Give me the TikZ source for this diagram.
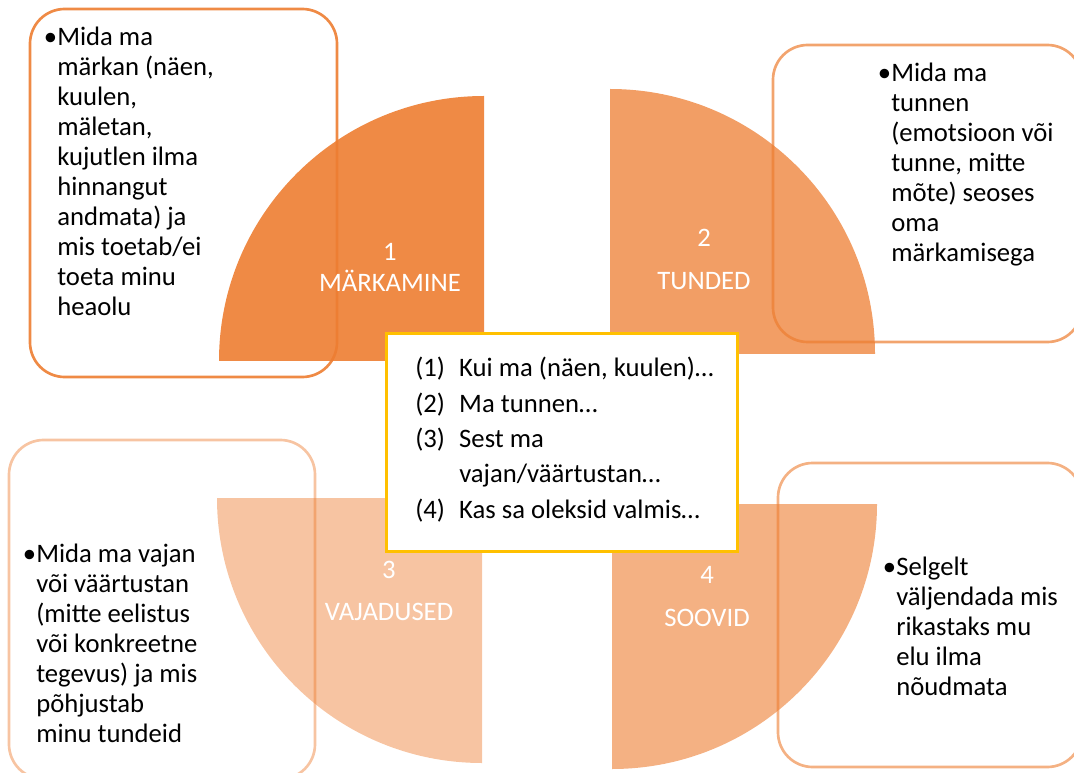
\documentclass[tikz,border=0pt]{standalone}
\usepackage{fontspec}
\setmainfont{Carlito}
\usepackage{tikz}
\definecolor{accent}{HTML}{ED7D31}
\definecolor{gold}{HTML}{FFC000}

\begin{document}
\begin{tikzpicture}[x=0.75pt,y=0.75pt]
	\tikzstyle{every node}+=[inner sep=0pt]
	\tikzstyle{notebox}=[draw=accent, line width=2pt, rounded corners=26pt]
	\tikzstyle{notetext}=[anchor=base west, align=left, font=\fontsize{20}{22.5}\selectfont]
	\tikzstyle{steplabel}=[anchor=base, align=center, text=white]
	\useasboundingbox (0,0) rectangle (1074,-773);
	\draw [notebox, draw opacity=0.9] (30,-9) rectangle (337,-377);
	\draw [notebox, draw opacity=0.7] (773,-45) rectangle (1082,-342);
	\draw [notebox, draw opacity=0.45] (9,-440) rectangle (315,-779);
	\draw [notebox, draw opacity=0.6] (778,-463) rectangle (1082,-767);
	\fill [accent, fill opacity=0.9] (484,-361) -- (484,-96) arc (90:180:265) -- cycle;
	\fill [accent, fill opacity=0.75] (610,-354) -- (610,-89) arc (90:0:265) -- cycle;
	\fill [accent, fill opacity=0.45] (482,-498) -- (217,-498) arc (180:270:265) -- cycle;
	\fill [accent, fill opacity=0.6] (612,-504) -- (612,-769) arc (270:360:265) -- cycle;
	\draw (390,-292) node (m1) [steplabel, font=\fontsize{20}{23.25}\selectfont] {1\\MÄRKAMINE};
	\draw (704,-290) node (m2) [steplabel, font=\fontsize{20}{32.25}\selectfont] {2\\TUNDED};
	\draw (389,-620) node (m3) [steplabel, font=\fontsize{20}{31.5}\selectfont] {3\\VAJADUSED};
	\draw (707,-626) node (m4) [steplabel, font=\fontsize{20}{32.25}\selectfont] {4\\SOOVID};
	\draw (57,-316) node (t1) [notetext] {\llap{•}Mida ma\\märkan (näen,\\kuulen,\\mäletan,\\kujutlen ilma\\hinnangut\\andmata) ja\\mis toetab/ei\\toeta minu\\heaolu};
	\draw (891,-262) node (t2) [notetext] {\llap{•}Mida ma\\tunnen\\(emotsioon või\\tunne, mitte\\mõte) seoses\\oma\\märkamisega};
	\draw (36,-742) node (t3) [notetext] {\llap{•}Mida ma vajan\\või väärtustan\\(mitte eelistus\\või konkreetne\\tegevus) ja mis\\põhjustab\\minu tundeid};
	\draw (896,-695) node (t4) [notetext] {\llap{•}Selgelt\\väljendada mis\\rikastaks mu\\elu ilma\\nõudmata};
	\draw [gold, fill=white, line width=2.25pt] (386,-334) rectangle (737,-551);
	\draw (415,-377) node (steps) [anchor=base west, font=\fontsize{20}{26.5}\selectfont]
		{\begin{tabular}[t]{@{}p{33pt}@{}l@{}}
		(1) & Kui ma (näen, kuulen)…\\
		(2) & Ma tunnen…\\
		(3) & Sest ma\\
		    & vajan/väärtustan…\\
		(4) & Kas sa oleksid valmis…
		\end{tabular}};
\end{tikzpicture}
\end{document}
